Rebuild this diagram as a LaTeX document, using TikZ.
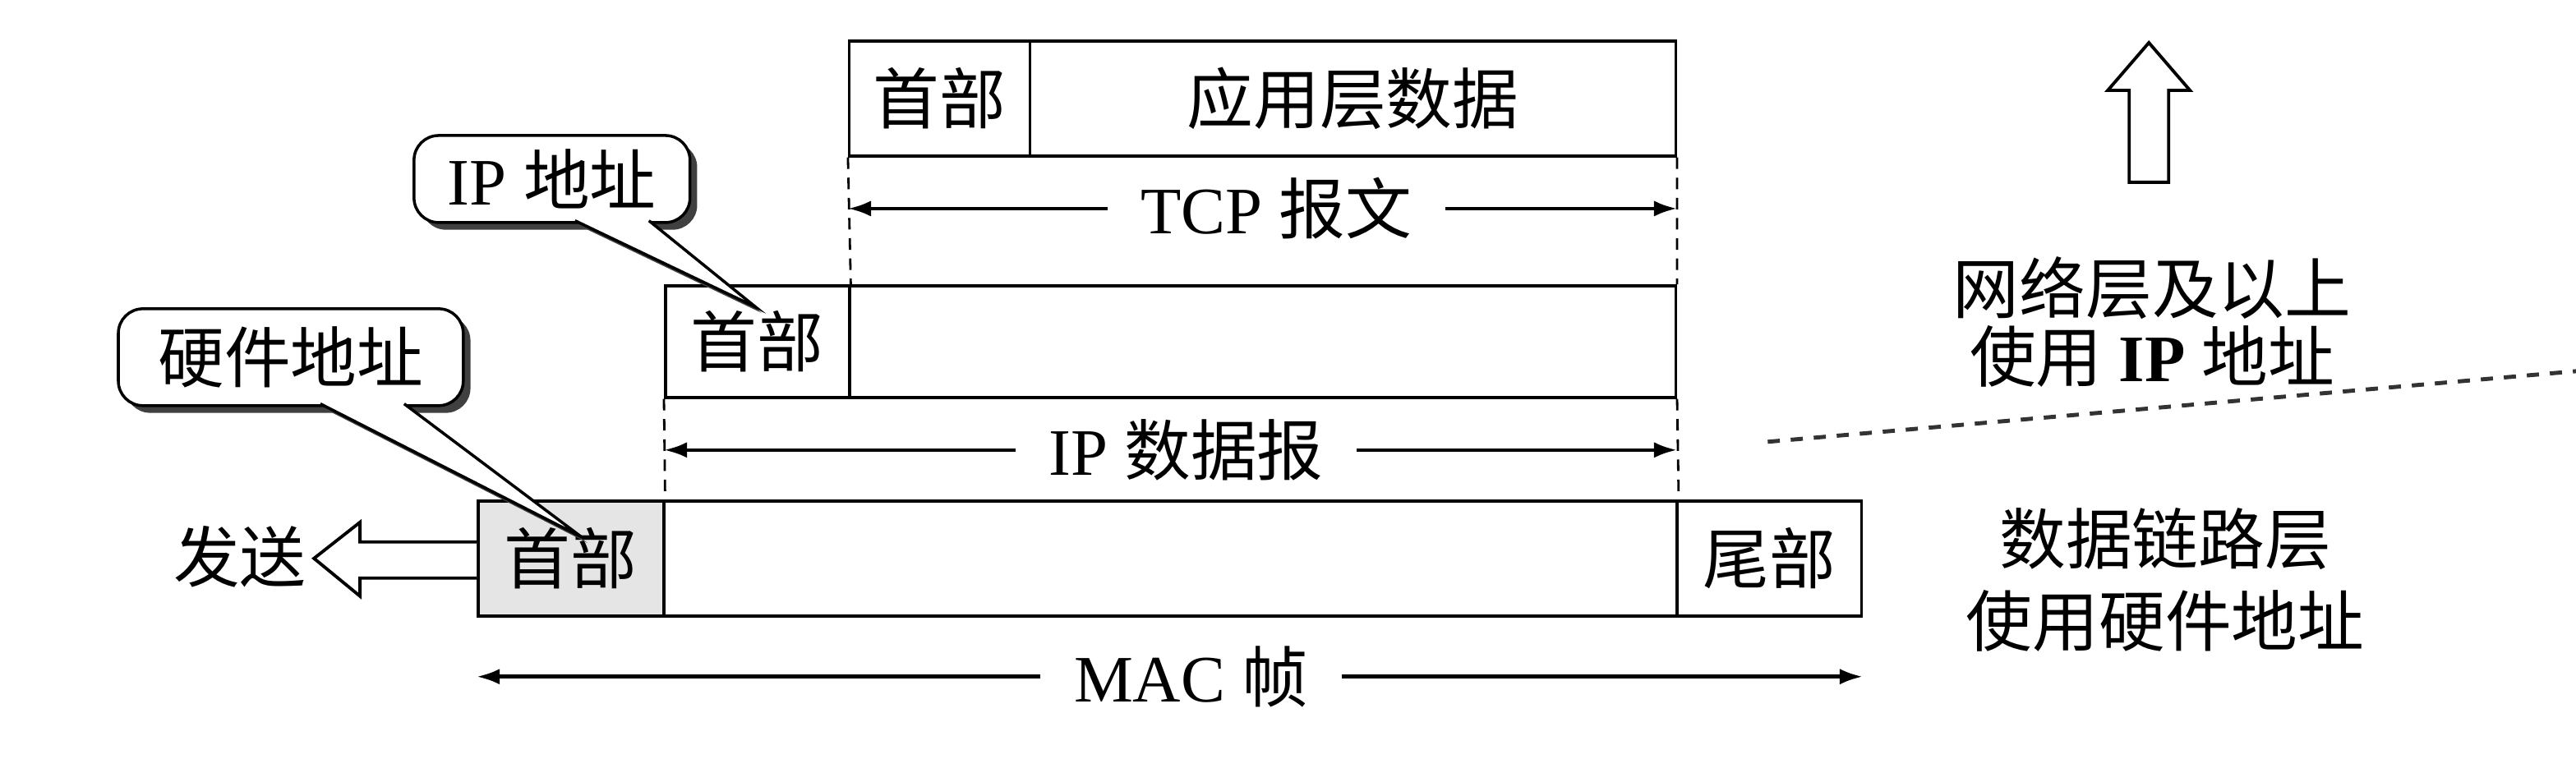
\documentclass[tikz,border=0pt]{standalone}
\usepackage{fontspec}
\setmainfont{Liberation Serif}
\newfontfamily\cjk{Noto Sans CJK SC}
\usetikzlibrary{arrows.meta,shadows,calc}
\begin{document}
\begin{tikzpicture}[x=0.02cm, y=-0.02cm,
  font=\fontsize{23}{27}\selectfont,
  box/.style={draw, line width=1pt, inner sep=0pt},
  vdashline/.style={dashed, dash pattern=on 4pt off 3pt, line width=0.8pt},
  layerline/.style={dash pattern=on 4.2pt off 3.8pt, line width=1.4pt, black!80},
  lab/.style={inner xsep=0.4cm, inner ysep=0pt},
  dimarrow/.style={line width=1.3pt, -{Latex[length=8pt,width=5.5pt]}},
  callbox/.style={draw, line width=1pt, rounded corners=0.3cm, fill=white, inner sep=0pt,
    drop shadow={shadow xshift=2.5pt, shadow yshift=-2.5pt, fill=black!75, opacity=1}},
  pointer/.style={draw, fill=white, line width=1pt, line join=miter,
    drop shadow={shadow xshift=2pt, shadow yshift=-2pt, fill=black!75, opacity=1}},
  hollow/.style={draw, fill=white, line width=1.1pt, line join=miter}]
\useasboundingbox (0,0) rectangle (1568,476);

% TCP segment
\node[box, minimum width=2.2cm, minimum height=1.4cm] (tcph) at (572,60) {\cjk 首部};
\node[box, minimum width=7.86cm, minimum height=1.4cm] (tcpd) at (823.5,60) {\cjk 应用层数据};

% IP datagram
\node[box, minimum width=2.24cm, minimum height=1.36cm] (iph) at (461,208) {\cjk 首部};
\node[box, minimum width=10.06cm, minimum height=1.36cm] (ipd) at (768.5,208) {};

% MAC frame
\node[box, fill=gray!20, minimum width=2.26cm, minimum height=1.4cm] (mach) at (347.5,340) {\cjk 首部};
\node[box, minimum width=12.34cm, minimum height=1.4cm] (macd) at (712.5,340) {};
\node[box, minimum width=2.24cm, minimum height=1.4cm] (mact) at (1077,340) {\cjk 尾部};

% dashed guides
\draw[vdashline] (tcph.south west) -- (iph.north east);
\draw[vdashline] (tcpd.south east) -- (ipd.north east);
\draw[vdashline] (iph.south west) -- (mach.north east);
\draw[vdashline] (ipd.south east) -- (macd.north east);

% extent arrows
\node[lab] (tcpl) at (777,127) {TCP {\cjk 报文}};
\draw[dimarrow] (tcpl.west) -- (tcph.west |- tcpl.center);
\draw[dimarrow] (tcpl.east) -- (tcpd.east |- tcpl.center);

\node[lab] (ipl) at (722,274) {IP {\cjk 数据报}};
\draw[dimarrow] (ipl.west) -- (iph.west |- ipl.center);
\draw[dimarrow] (ipl.east) -- (ipd.east |- ipl.center);

\node[lab] (macl) at (725,412) {MAC {\cjk 帧}};
\draw[dimarrow] (macl.west) -- (mach.west |- macl.center);
\draw[dimarrow] (macl.east) -- (mact.east |- macl.center);

% callouts
\node[callbox, minimum width=3.36cm, minimum height=1.06cm] (ipc) at (336,109) {IP {\cjk 地址}};
\coordinate (ipt) at (460,187);
\path[pointer] ($(ipc.south)+(14,-2)$) -- (ipt) -- ($(ipc.south)+(59,-2)$);

\node[callbox, minimum width=4.2cm, minimum height=1.18cm] (hwc) at (177,217.5) {\cjk 硬件地址};
\coordinate (hwt) at (354,327);
\path[pointer] ($(hwc.south)+(18,-2)$) -- (hwt) -- ($(hwc.south)+(69,-2)$);

% send arrow
\node (send) at (146,339) {\cjk 发送};
\path[hollow] ($(mach.west)+(0,-10)$) -- ($(mach.west)+(-71,-10)$) -- ($(mach.west)+(-71,-22)$)
  -- ($(mach.west)+(-99,0)$) -- ($(mach.west)+(-71,23)$) -- ($(mach.west)+(-71,12)$) -- ($(mach.west)+(0,12)$);

% up arrow
\path[hollow] (1296,111) -- (1296,55) -- (1283,55) -- (1308,26) -- (1333,55) -- (1320,55) -- (1320,111) -- cycle;

% layer separator
\coordinate (sepa) at (1076,269);
\coordinate (sepb) at (1568,226);
\draw[layerline] (sepa) -- (sepb);

% layer texts
\node[align=center, font=\fontsize{23}{23.5}\selectfont] (upper) at (1310,196)
  {{\cjk 网络层及以上}\\{\cjk 使用} \textbf{IP} {\cjk 地址}};
\node (t3) at (1318,328) {\cjk 数据链路层};
\node (t4) at (1318,378) {\cjk 使用硬件地址};
\end{tikzpicture}
\end{document}
